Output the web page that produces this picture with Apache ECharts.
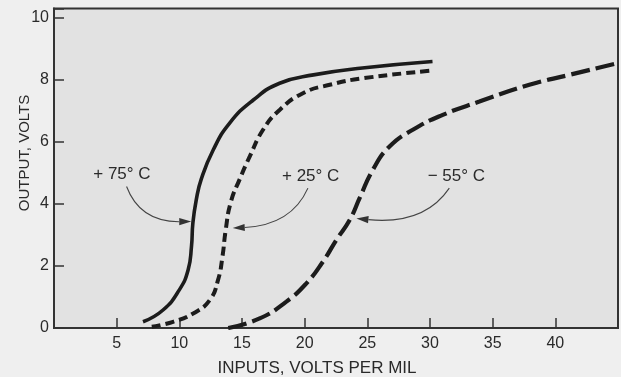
<!DOCTYPE html>
<html>
<head>
<meta charset="utf-8">
<script src="https://cdn.jsdelivr.net/npm/echarts@6/dist/echarts.min.js"></script>
<style>
  html, body { margin: 0; padding: 0; background: #efefef; }
  #chart { width: 621px; height: 377px; }
</style>
</head>
<body>
<div id="chart"></div>
<script>
// Output voltage vs. input (volts per mil) at three temperatures
const xTicks = [5, 10, 15, 20, 25, 30, 35, 40];
const yTicks = [0, 2, 4, 6, 8, 10];

const hot75 = [
  [7.1, 0.2], [8.7, 0.58], [10.0, 1.23], [10.7, 1.87], [10.97, 2.63],
  [11.08, 3.38], [11.35, 4.13], [11.75, 4.8], [12.7, 5.74], [14.0, 6.6],
  [15.9, 7.35], [18.0, 7.89], [20.7, 8.16], [24.6, 8.38], [30.2, 8.59]
];
const room25 = [
  [7.8, 0.04], [9.5, 0.2], [11.1, 0.47], [12.43, 0.9], [13.09, 1.55],
  [13.44, 2.3], [13.7, 3.16], [14.1, 4.05], [14.82, 4.8], [15.62, 5.53],
  [16.68, 6.39], [18.0, 7.03], [19.86, 7.57], [22.0, 7.84], [24.65, 8.05],
  [30.2, 8.3]
];
const cold55 = [
  [13.9, 0.0], [16.41, 0.31], [18.54, 0.85], [20.14, 1.44], [21.46, 2.14],
  [22.53, 2.84], [23.59, 3.48], [24.4, 4.2], [25.44, 5.1], [26.77, 5.85],
  [28.63, 6.39], [31.02, 6.87], [33.94, 7.3], [37.93, 7.84], [41.12, 8.16],
  [45.0, 8.54]
];

// Callout labels and their pointer arrows (start, control, tip) in data units
const labelTexts = ['+ 75° C', '+ 25° C', '\u2212 55° C'];
const labelAt = [[5.42, 4.97], [20.48, 4.9], [32.1, 4.9]];
const arrowStart = [[5.79, 4.56], [20.26, 4.51], [31.54, 4.51]];
const arrowBend = [[6.85, 3.42], [18.95, 3.32], [29.55, 3.32]];
const arrowTip = [[10.95, 3.43], [14.26, 3.22], [24.13, 3.53]];

const calloutData = labelTexts.map((t, i) => [
  labelAt[i][0], labelAt[i][1],
  arrowStart[i][0], arrowStart[i][1],
  arrowBend[i][0], arrowBend[i][1],
  arrowTip[i][0], arrowTip[i][1]
]);

const ink = '#1c1c1c';
const textColor = '#2a2a2a';
const fontFamily = '"Liberation Sans", Arial, sans-serif';

const chart = echarts.init(document.getElementById('chart'));

function renderCallout(params, api) {
  const i = params.dataIndex;
  const lp = api.coord([api.value(0), api.value(1)]);
  const p1 = api.coord([api.value(2), api.value(3)]);
  const cp = api.coord([api.value(4), api.value(5)]);
  const p2 = api.coord([api.value(6), api.value(7)]);
  let dx = p2[0] - cp[0], dy = p2[1] - cp[1];
  const len = Math.sqrt(dx * dx + dy * dy) || 1;
  dx /= len; dy /= len;
  const headLen = 12, headHalf = 3.6;
  const bx = p2[0] - dx * headLen, by = p2[1] - dy * headLen;
  return {
    type: 'group',
    children: [
      {
        type: 'bezierCurve',
        shape: { x1: p1[0], y1: p1[1], cpx1: cp[0], cpy1: cp[1], x2: bx, y2: by },
        style: { stroke: '#444', lineWidth: 1.1, fill: null }
      },
      {
        type: 'polygon',
        shape: { points: [
          [p2[0], p2[1]],
          [bx - dy * headHalf, by + dx * headHalf],
          [bx + dy * headHalf, by - dx * headHalf]
        ] },
        style: { fill: '#333' }
      },
      {
        type: 'text',
        style: {
          text: labelTexts[i], x: lp[0], y: lp[1],
          align: 'center', verticalAlign: 'middle',
          font: '17px ' + fontFamily, fill: textColor
        }
      }
    ]
  };
}

chart.setOption({
  backgroundColor: '#efefef',
  animation: false,
  grid: {
    left: 54, right: 2, top: 8.5, bottom: 49,
    show: true, backgroundColor: '#e2e2e2',
    borderColor: '#333', borderWidth: 2
  },
  xAxis: {
    type: 'value', min: 0, max: 45, interval: 5,
    axisLine: { show: true, lineStyle: { color: '#333', width: 2 } },
    axisTick: { show: true, inside: true, length: 10, lineStyle: { color: '#333', width: 1.5 } },
    splitLine: { show: false },
    axisLabel: {
      margin: 8, color: textColor, fontSize: 16, fontFamily: 'Liberation Sans',
      formatter: v => xTicks.includes(v) ? String(v) : ''
    }
  },
  yAxis: {
    type: 'value', min: 0, max: 10.3, interval: 2,
    axisLine: { show: true, lineStyle: { color: '#333', width: 2 } },
    axisTick: { show: true, inside: true, length: 10, lineStyle: { color: '#333', width: 1.5 } },
    splitLine: { show: false },
    axisLabel: {
      margin: 5, color: textColor, fontSize: 16, fontFamily: 'Liberation Sans',
      formatter: v => yTicks.includes(v) ? String(v) : ''
    }
  },
  graphic: [
    {
      type: 'text', x: 25, y: 153, rotation: Math.PI / 2,
      style: {
        text: 'OUTPUT, VOLTS', align: 'center', verticalAlign: 'middle',
        font: '15px ' + fontFamily, fill: textColor
      }
    },
    {
      type: 'text', x: 317, y: 368,
      style: {
        text: 'INPUTS, VOLTS PER MIL', align: 'center', verticalAlign: 'middle',
        font: '17px ' + fontFamily, fill: textColor
      }
    }
  ],
  series: [
    {
      name: '+75°C', type: 'line', data: hot75, smooth: 0.5,
      showSymbol: false, lineStyle: { color: ink, width: 3.6 }
    },
    {
      name: '+25°C', type: 'line', data: room25, smooth: 0.5,
      showSymbol: false, lineStyle: { color: ink, width: 4, type: [9, 5] }
    },
    {
      name: '-55°C', type: 'line', data: cold55, smooth: 0.5,
      showSymbol: false, lineStyle: { color: ink, width: 4.2, type: [19, 6] }
    },
    {
      type: 'custom', coordinateSystem: 'cartesian2d',
      data: calloutData, renderItem: renderCallout, silent: true,
      encode: { x: 0, y: 1 }
    }
  ]
});
</script>
</body>
</html>
